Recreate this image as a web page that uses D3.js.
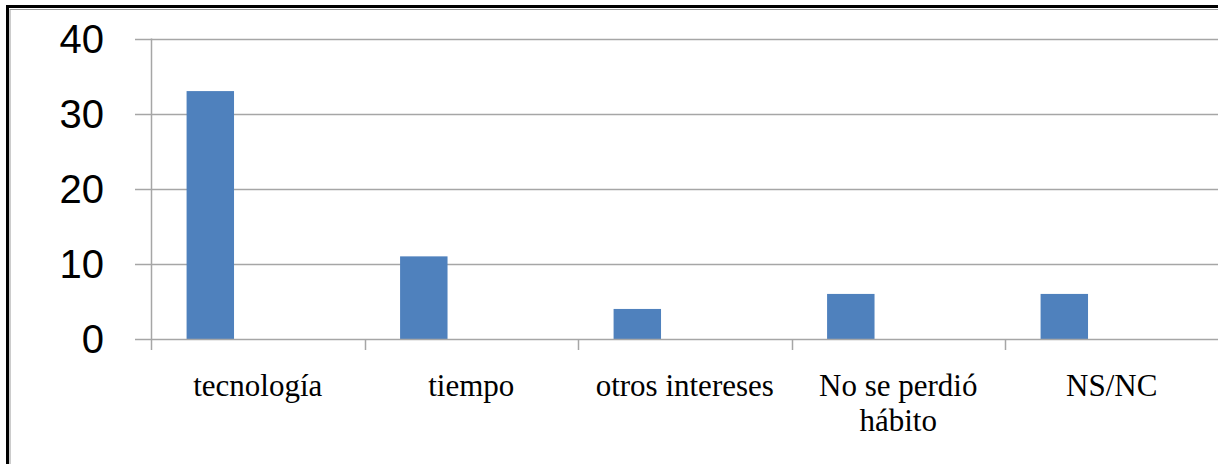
<!DOCTYPE html>
<html>
<head>
<meta charset="utf-8">
<script src="https://cdn.jsdelivr.net/npm/d3@7"></script>
<style>
  html, body { margin: 0; padding: 0; background: #fff; }
  svg { display: block; }
</style>
</head>
<body>
<div id="chart"></div>
<script>
const categories = ['tecnología', 'tiempo', 'otros intereses', 'No se perdió hábito', 'NS/NC'];
const values = [33, 11, 4, 6, 6];
const yTicks = [0, 10, 20, 30, 40];
const seriesSlots = ['s1', 's2', 's3']; // excel clustered layout, only first series has data

const width = 1218;
const height = 464;
const margin = { top: 38.5, right: 0, bottom: 125, left: 151 };

const svg = d3.select('#chart')
  .append('svg')
  .attr('width', width)
  .attr('height', height);

// frame
svg.append('rect')
  .attr('x', 7.5).attr('y', 6.5)
  .attr('width', width + 10).attr('height', height + 10)
  .attr('fill', 'none').attr('stroke', '#000').attr('stroke-width', 3);
svg.append('rect')
  .attr('x', 10).attr('y', 9.5)
  .attr('width', width + 10).attr('height', height + 10)
  .attr('fill', 'none').attr('stroke', '#999').attr('stroke-width', 1);

const x = d3.scaleBand()
  .domain(categories)
  .range([margin.left, width + 0.5])
  .padding(0);

const inner = d3.scaleBand()
  .domain(seriesSlots)
  .range([0, x.bandwidth()])
  .paddingOuter(0.75)
  .paddingInner(0);

const y = d3.scaleLinear()
  .domain([0, 40])
  .range([height - margin.bottom, margin.top]);

// gridlines with outward ticks
const g = svg.append('g');
g.selectAll('line.grid')
  .data(yTicks.filter(d => d > 0))
  .enter()
  .append('line')
  .attr('class', 'grid')
  .attr('x1', margin.left - 16)
  .attr('x2', width)
  .attr('y1', d => Math.round(y(d)) + 0.5)
  .attr('y2', d => Math.round(y(d)) + 0.5)
  .attr('stroke', '#a6a6a6')
  .attr('stroke-width', 1.5);

// bars
svg.selectAll('rect.bar')
  .data(values)
  .enter()
  .append('rect')
  .attr('class', 'bar')
  .attr('x', (d, i) => x(categories[i]) + inner('s1'))
  .attr('width', inner.bandwidth())
  .attr('y', d => y(d))
  .attr('height', d => y(0) - y(d))
  .attr('fill', '#4f81bd');

// y axis line
svg.append('line')
  .attr('x1', margin.left + 0.5).attr('x2', margin.left + 0.5)
  .attr('y1', y(40)).attr('y2', y(0))
  .attr('stroke', '#a6a6a6').attr('stroke-width', 1.5);

// x axis line
svg.append('line')
  .attr('x1', margin.left - 16).attr('x2', width)
  .attr('y1', Math.round(y(0)) + 0.5).attr('y2', Math.round(y(0)) + 0.5)
  .attr('stroke', '#a6a6a6').attr('stroke-width', 1.5);

// x ticks at band boundaries
svg.selectAll('line.xtick')
  .data(categories)
  .enter()
  .append('line')
  .attr('class', 'xtick')
  .attr('x1', d => Math.round(x(d)) + 0.5)
  .attr('x2', d => Math.round(x(d)) + 0.5)
  .attr('y1', y(0))
  .attr('y2', y(0) + 11)
  .attr('stroke', '#a6a6a6').attr('stroke-width', 1.5);

// y labels
svg.selectAll('text.ylab')
  .data(yTicks)
  .enter()
  .append('text')
  .attr('class', 'ylab')
  .attr('x', 104)
  .attr('y', d => y(d) + 14)
  .attr('text-anchor', 'end')
  .style('font-family', '"Liberation Sans", Arial, sans-serif')
  .style('font-size', '40px')
  .attr('fill', '#000')
  .text(d => d);

// x labels, wrapped
const wraps = { 'No se perdió hábito': ['No se perdió', 'hábito'] };
svg.selectAll('text.xlab')
  .data(categories)
  .enter()
  .append('text')
  .attr('class', 'xlab')
  .attr('text-anchor', 'middle')
  .style('font-family', '"Liberation Serif", "Times New Roman", serif')
  .style('font-size', '31px')
  .attr('fill', '#000')
  .each(function (d) {
    const lines = wraps[d] || [d];
    const t = d3.select(this);
    lines.forEach((ln, i) => {
      t.append('tspan')
        .attr('x', x(d) + x.bandwidth() / 2)
        .attr('y', 396 + i * 35)
        .text(ln);
    });
  });
</script>
</body>
</html>
